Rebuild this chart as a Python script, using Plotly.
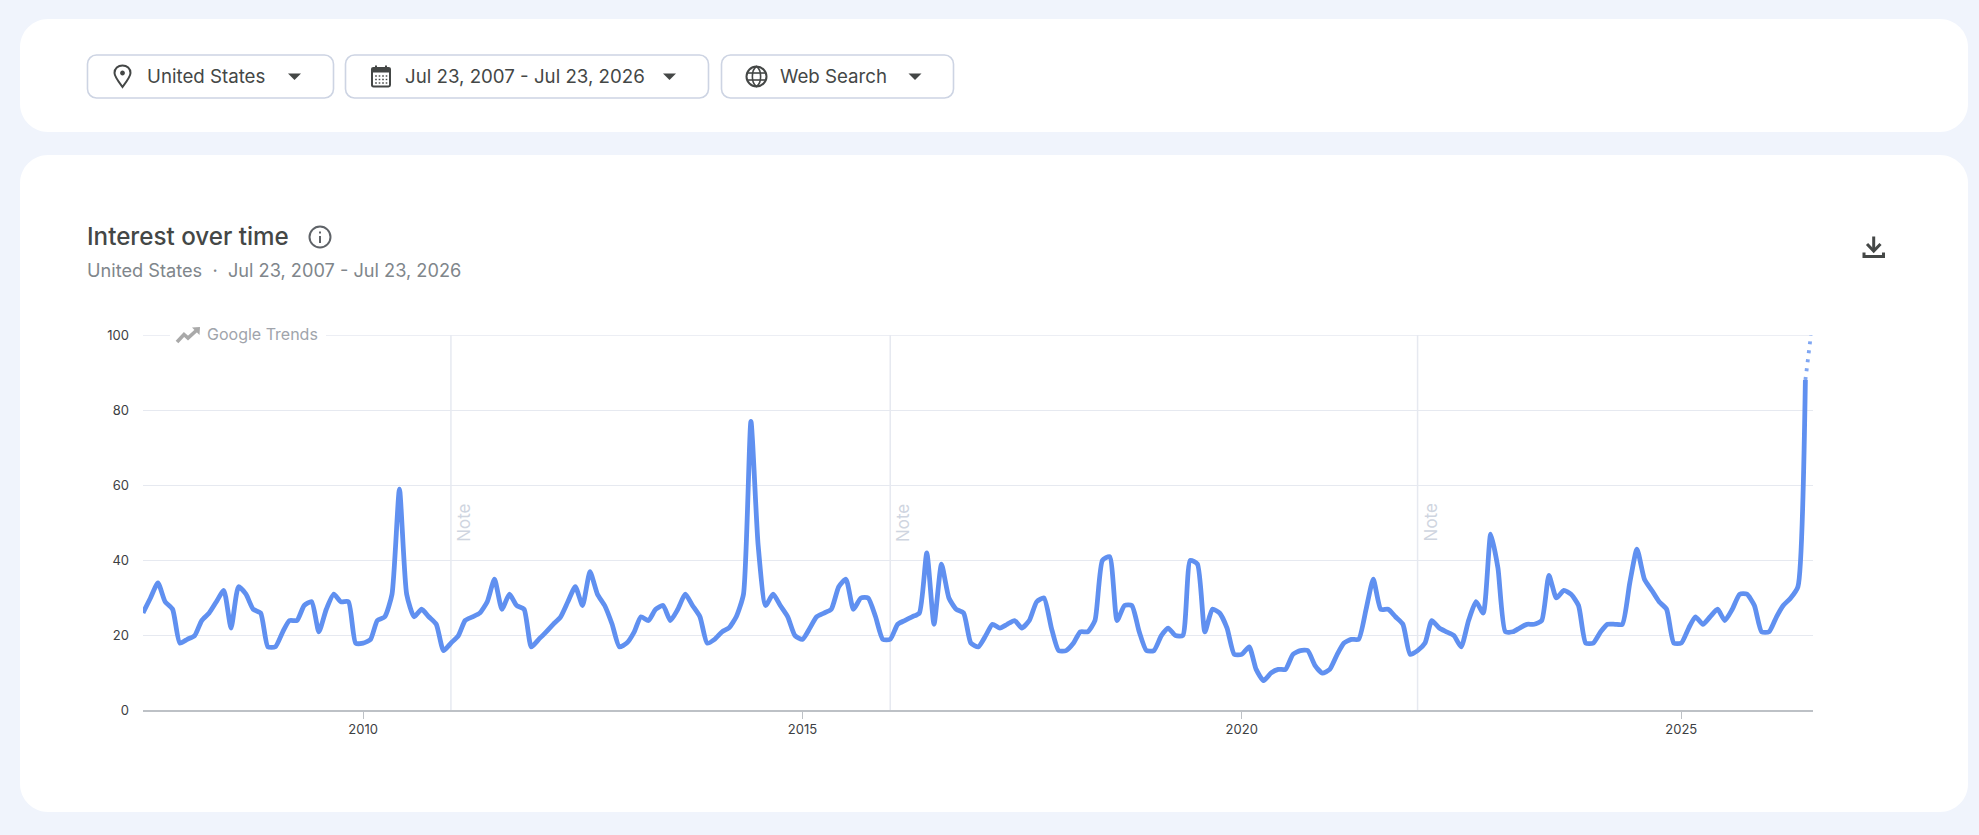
import plotly.graph_objects as go

# Monthly search interest, Jul 2007 onward (final month still partial)
start_month = "2007-07-01"
interest = [
    26, 30, 34, 29, 27, 18, 19, 20, 24, 26, 29, 32, 22, 33, 31, 27, 26, 17, 17, 21,
    24, 24, 28, 29, 21, 27, 31, 29, 29, 18, 18, 19, 24, 25, 31, 59, 31, 25, 27, 25,
    23, 16, 18, 20, 24, 25, 26, 29, 35, 27, 31, 28, 27, 17, 19, 21, 23, 25, 29, 33,
    28, 37, 31, 28, 23, 17, 18, 21, 25, 24, 27, 28, 24, 27, 31, 28, 25, 18, 19, 21,
    22, 25, 31, 77, 44, 28, 31, 28, 25, 20, 19, 22, 25, 26, 27, 33, 35, 27, 30, 30,
    25, 19, 19, 23, 24, 25, 26, 42, 23, 39, 30, 27, 26, 18, 17, 20, 23, 22, 23, 24,
    22, 24, 29, 30, 22, 16, 16, 18, 21, 21, 24, 40, 41, 24, 28, 28, 21, 16, 16, 20,
    22, 20, 20, 40, 39, 21, 27, 26, 22, 15, 15, 17, 11, 8, 10, 11, 11, 15, 16, 16,
    12, 10, 11, 15, 18, 19, 19, 27, 35, 27, 27, 25, 23, 15, 16, 18, 24, 22, 21, 20,
    17, 24, 29, 26, 47, 38, 21, 21, 22, 23, 23, 24, 36, 30, 32, 31, 28, 18, 18, 21,
    23, 23, 23, 34, 43, 35, 32, 29, 27, 18, 18, 22, 25, 23, 25, 27, 24, 27, 31, 31,
    28, 21, 21, 25, 28, 30, 33, 88,
]
partial_date = "2026-06-24"
partial_value = 100
note_dates = ["2011-01-01", "2016-01-01", "2022-01-01"]
year_ticks = ["2010-01-01", "2015-01-01", "2020-01-01", "2025-01-01"]
year_labels = ["2010", "2015", "2020", "2025"]
value_ticks = [0, 20, 40, 60, 80, 100]

W, H = 1979, 835
PAGE = "#F0F4FC"
LINE = "#6090F0"
GRID = "#E6E9F0"
INK = "#444746"
FONT = "Inter"
AXIS_START, AXIS_END = "2007-07-01", "2026-07-01"


def fx(x):
    return round(x / W, 5)


def fy(y):
    return round(1 - y / H, 5)


def P(x, y):
    return f"{fx(x)},{fy(y)}"


def rrect_path(x0, y0, x1, y1, r):
    k = r * 0.45
    return (
        f"M{P(x0 + r, y0)} L{P(x1 - r, y0)} C{P(x1 - k, y0)} {P(x1, y0 + k)} {P(x1, y0 + r)} "
        f"L{P(x1, y1 - r)} C{P(x1, y1 - k)} {P(x1 - k, y1)} {P(x1 - r, y1)} "
        f"L{P(x0 + r, y1)} C{P(x0 + k, y1)} {P(x0, y1 - k)} {P(x0, y1 - r)} "
        f"L{P(x0, y0 + r)} C{P(x0, y0 + k)} {P(x0 + k, y0)} {P(x0 + r, y0)} Z"
    )


def poly_path(points, close=False):
    d = "M" + " L".join(P(x, y) for x, y in points)
    return d + (" Z" if close else "")


def circle_path(cx, cy, r):
    return rrect_path(cx - r, cy - r, cx + r, cy + r, r)


shapes = []


def add_path(d, fill="rgba(0,0,0,0)", stroke=None, width=0, layer="above"):
    shapes.append(dict(
        type="path", path=d, xref="paper", yref="paper", fillcolor=fill, layer=layer,
        line=dict(color=stroke or "rgba(0,0,0,0)", width=width),
    ))


# Cards
add_path(rrect_path(20, 19, 1968, 132, 28), fill="white", layer="below")
add_path(rrect_path(20, 155, 1968, 812, 28), fill="white", layer="below")

# Filter buttons
for x0, x1 in [(87.5, 333.5), (345.5, 708.5), (721.5, 953.5)]:
    add_path(rrect_path(x0, 55, x1, 98, 9), fill="white", stroke="#CDD4E3", width=1.6, layer="below")

# Dropdown carets
for cx in [294.5, 669.5, 915]:
    add_path(poly_path([(cx - 6.5, 73.5), (cx + 6.5, 73.5), (cx, 80)], close=True), fill=INK)

# Location pin
add_path(
    f"M{P(122.5, 87)} C{P(118, 81)} {P(114.5, 76.5)} {P(114.5, 73)} "
    f"C{P(114.5, 68.5)} {P(118, 65.5)} {P(122.5, 65.5)} "
    f"C{P(127, 65.5)} {P(130.5, 68.5)} {P(130.5, 73)} "
    f"C{P(130.5, 76.5)} {P(127, 81)} {P(122.5, 87)} Z",
    stroke=INK, width=2,
)
add_path(circle_path(122.5, 73, 2.4), fill=INK)

# Calendar
add_path(rrect_path(372, 68, 390, 86.5, 1.5), stroke=INK, width=2)
add_path(poly_path([(372, 68), (390, 68), (390, 72.5), (372, 72.5)], close=True), fill=INK)
add_path(poly_path([(376, 65.5), (376, 68)]), stroke=INK, width=2)
add_path(poly_path([(386, 65.5), (386, 68)]), stroke=INK, width=2)
for row_y in (76, 79.5, 83):
    for col_x in (376, 379.5, 383, 386.5):
        add_path(poly_path([(col_x - 0.8, row_y), (col_x + 0.8, row_y)]), stroke=INK, width=1.4)

# Globe
add_path(circle_path(756.5, 76.5, 10), stroke=INK, width=2)
add_path(
    f"M{P(756.5, 66.5)} C{P(751, 70)} {P(751, 83)} {P(756.5, 86.5)} "
    f"C{P(762, 83)} {P(762, 70)} {P(756.5, 66.5)} Z",
    stroke=INK, width=1.6,
)
add_path(poly_path([(747, 73), (766, 73)]), stroke=INK, width=1.6)
add_path(poly_path([(747, 80), (766, 80)]), stroke=INK, width=1.6)

# Info icon beside the heading
add_path(circle_path(320, 237, 10.5), stroke="#5F6368", width=2)
add_path(poly_path([(320, 236), (320, 243)]), stroke="#5F6368", width=2)
add_path(poly_path([(320, 231.5), (320, 233.5)]), stroke="#5F6368", width=2)

# Download icon
add_path(poly_path([(1873.7, 236.5), (1873.7, 250)]), stroke=INK, width=3)
add_path(poly_path([(1867, 244), (1873.7, 251), (1880.5, 244)]), stroke=INK, width=3)
add_path(poly_path([(1864, 252.5), (1864, 256.5), (1883.5, 256.5), (1883.5, 252.5)]), stroke=INK, width=3)

# Top gridline: the axis drops gridlines that sit on the range end
shapes.append(dict(type="line", xref="x", yref="y", x0=AXIS_START, x1=AXIS_END, y0=100, y1=100,
                   layer="below", line=dict(color=GRID, width=1.3)))
# Gap in the top gridline that holds the watermark
shapes.append(dict(type="rect", xref="paper", yref="paper", layer="above",
                   x0=fx(170), x1=fx(326), y0=fy(345), y1=fy(325),
                   fillcolor="white", line=dict(width=0)))
# Watermark arrow
add_path(poly_path([(177, 342), (184, 334.5), (188, 338), (198, 329)]), stroke="#A9A9A9", width=3.6)
add_path(poly_path([(192, 327.5), (200, 327), (199.5, 335)], close=True), fill="#A9A9A9")

# Vertical note markers
for d in note_dates:
    shapes.append(dict(type="line", xref="x", yref="y", x0=d, x1=d, y0=0, y1=100,
                       layer="below", line=dict(color=GRID, width=1.5)))

NB = "\u00a0"
annotations = [
    dict(text="Google Trends", x=fx(205), y=fy(334), font=dict(size=16, color="#A0A4AB")),
    dict(text="United States", x=fx(145), y=fy(76), font=dict(size=18.7, color=INK)),
    dict(text="Jul 23, 2007 - Jul 23, 2026", x=fx(403), y=fy(76), font=dict(size=18.7, color=INK)),
    dict(text="Web Search", x=fx(778.5), y=fy(76), font=dict(size=18.7, color=INK)),
    dict(text="Interest over time", x=fx(85), y=fy(237), font=dict(size=24.2, color=INK, weight=500)),
    dict(text=f"United States{NB}{NB}·{NB}{NB}Jul 23, 2007 - Jul 23, 2026", x=fx(85), y=fy(270.5),
         font=dict(size=18.2, color="#80868B")),
]
for a in annotations:
    a.update(xref="paper", yref="paper", xanchor="left", yanchor="middle", showarrow=False)
for d in note_dates:
    annotations.append(dict(
        text="Note", x=d, y=50, xref="x", yref="y", xshift=13, textangle=-90,
        showarrow=False, font=dict(size=17, color="#CFD5E0"),
    ))

months = [f"{2007 + (6 + i) // 12}-{(6 + i) % 12 + 1:02d}-01" for i in range(len(interest))]

fig = go.Figure()
fig.add_trace(go.Scatter(
    x=months, y=interest, mode="lines", hoverinfo="skip",
    line=dict(color=LINE, width=4.8, shape="spline", smoothing=0.55),
))
fig.add_trace(go.Scatter(
    x=[months[-1], partial_date], y=[interest[-1], partial_value], mode="lines", hoverinfo="skip",
    line=dict(color="#7FA6F2", width=3.8, dash="3px,6px"),
))

fig.update_layout(
    width=W, height=H, autosize=False, margin=dict(l=0, r=0, t=0, b=0, autoexpand=False),
    paper_bgcolor=PAGE, plot_bgcolor="rgba(0,0,0,0)", showlegend=False,
    font=dict(family=FONT, color=INK), shapes=shapes, annotations=annotations,
    xaxis=dict(
        domain=[143 / W, 1812.6 / W], type="date", range=[AXIS_START, AXIS_END], automargin=False,
        tickvals=year_ticks, ticktext=year_labels, ticks="outside", ticklen=7, tickwidth=1,
        tickcolor="#BDC1C6", showgrid=False, zeroline=False, showline=False,
        tickfont=dict(size=13, color="#3C4043"),
    ),
    yaxis=dict(
        domain=[1 - 710.7 / H, 1 - 335 / H], range=[0, 100], tickvals=value_ticks, automargin=False,
        ticks="", showgrid=True, gridcolor=GRID, gridwidth=1.3, zeroline=True,
        zerolinecolor="#BDC1C6", zerolinewidth=2, showline=False,
        ticklabelstandoff=13, tickfont=dict(size=13, color="#3C4043"),
    ),
)

fig.write_html("out.html", config=dict(displayModeBar=False))
